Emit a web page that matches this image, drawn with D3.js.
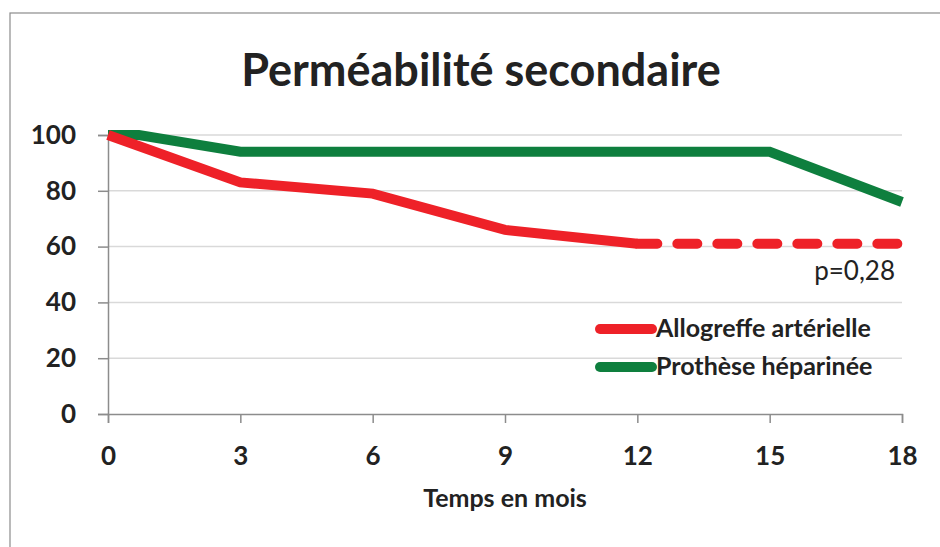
<!DOCTYPE html>
<html>
<head>
<meta charset="utf-8">
<script src="https://cdn.jsdelivr.net/npm/d3@7"></script>
<style>
  body { margin: 0; background: #fff; }
  text { font-family: Lato, "Open Sans", sans-serif; fill: #222; }
</style>
</head>
<body>
<script>
// Data
const monthsRed = [0, 3, 6, 9, 12]
const allogreffe = [100, 83, 79, 66, 61]
const dashedMonths = [12, 18]
const dashedValues = [61, 61]
const monthsGreen = [0, 0.7, 3, 15, 18]
const prothese = [100, 100, 94, 94, 76]
const xTicks = [0, 3, 6, 9, 12, 15, 18]
const yTicks = [0, 20, 40, 60, 80, 100]
const legendLabels = ["Allogreffe artérielle", "Prothèse héparinée"]

const W = 940, H = 547
const red = "#ee2128", green = "#0e7f3e"

const svg = d3.select("body").append("svg")
    .attr("width", W)
    .attr("height", H)

// outer frame
svg.append("rect")
    .attr("x", 10).attr("y", 13)
    .attr("width", W + 20).attr("height", H + 20)
    .attr("fill", "none")
    .attr("stroke", "#8c8c8c")
    .attr("stroke-width", 1.2)

const xScale = d3.scaleLinear().domain([0, 18]).range([108, 902])
const yScale = d3.scaleLinear().domain([0, 100]).range([414, 135])

// gridlines
svg.append("g")
    .selectAll("line")
    .data(yTicks.filter(d => d > 0))
    .enter()
    .append("line")
    .attr("x1", xScale(0)).attr("x2", xScale(18))
    .attr("y1", d => yScale(d)).attr("y2", d => yScale(d))
    .attr("stroke", "#d9d9d9")
    .attr("stroke-width", 1.5)

// y axis
const yAxis = svg.append("g")
    .attr("transform", `translate(${xScale(0)},0)`)
    .call(d3.axisLeft(yScale).tickValues(yTicks).tickSize(10).tickPadding(22))
yAxis.select(".domain").attr("stroke", "#8c8c8c").attr("stroke-width", 1.5)
yAxis.selectAll(".tick line").attr("stroke", "#8c8c8c").attr("stroke-width", 1.5)
yAxis.selectAll(".tick text")
    .style("font-size", "26px").style("font-weight", "bold")
    .attr("fill", "#222").attr("font-family", "Lato, sans-serif")

// x axis
const xAxis = svg.append("g")
    .attr("transform", `translate(0,${yScale(0)})`)
    .call(d3.axisBottom(xScale).tickValues(xTicks).tickSize(9).tickPadding(24))
xAxis.select(".domain").attr("stroke", "#8c8c8c").attr("stroke-width", 1.5)
xAxis.selectAll(".tick line").attr("stroke", "#8c8c8c").attr("stroke-width", 1.5)
xAxis.selectAll(".tick text")
    .style("font-size", "26px").style("font-weight", "bold")
    .attr("fill", "#222").attr("font-family", "Lato, sans-serif")

const line = d3.line()
    .x(d => xScale(d[0]))
    .y(d => yScale(d[1]))

// green series
svg.append("path")
    .datum(d3.zip(monthsGreen, prothese))
    .attr("d", line)
    .attr("fill", "none")
    .attr("stroke", green)
    .attr("stroke-width", 10)

// red series
svg.append("path")
    .datum(d3.zip(monthsRed, allogreffe))
    .attr("d", line)
    .attr("fill", "none")
    .attr("stroke", red)
    .attr("stroke-width", 10)

svg.append("path")
    .datum(d3.zip(dashedMonths, dashedValues))
    .attr("d", line)
    .attr("fill", "none")
    .attr("stroke", red)
    .attr("stroke-width", 10)
    .attr("stroke-linecap", "round")
    .attr("stroke-dasharray", "20,20")

// title
svg.append("text")
    .attr("x", 481).attr("y", 86)
    .attr("text-anchor", "middle")
    .style("font-size", "45px").style("font-weight", "bold")
    .text("Perméabilité secondaire")

// x axis label
svg.append("text")
    .attr("x", 505).attr("y", 507)
    .attr("text-anchor", "middle")
    .style("font-size", "25px").style("font-weight", "bold")
    .text("Temps en mois")

// p value
svg.append("text")
    .attr("x", 895).attr("y", 280)
    .attr("text-anchor", "end")
    .style("font-size", "26px")
    .text("p=0,28")

// legend
const legend = svg.append("g")
const legendColors = [red, green]
legendLabels.forEach((lab, i) => {
    const y = 329 + i * 38
    legend.append("line")
        .attr("x1", 600).attr("x2", 652)
        .attr("y1", y).attr("y2", y)
        .attr("stroke", legendColors[i])
        .attr("stroke-width", 10)
        .attr("stroke-linecap", "round")
    legend.append("text")
        .attr("x", 656).attr("y", y + 8)
        .style("font-size", "25px").style("font-weight", "bold")
        .text(lab)
})
</script>
</body>
</html>
